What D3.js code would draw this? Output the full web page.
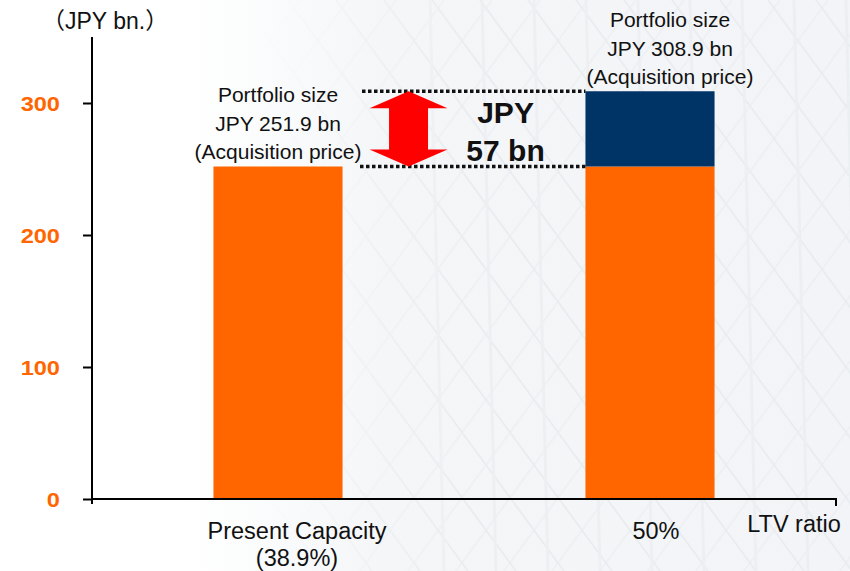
<!DOCTYPE html>
<html>
<head>
<meta charset="utf-8">
<script src="https://cdn.jsdelivr.net/npm/d3@7"></script>
<style>
  html, body { margin: 0; padding: 0; background: #fff; }
  svg { display: block; font-family: "Liberation Sans", Arial, sans-serif; }
</style>
</head>
<body>
<svg id="chart" width="850" height="571"></svg>
<script>
// LTV scenarios and portfolio sizes (JPY bn.)
const categories = ["Present Capacity", "50%"];
const categorySubLabels = ["(38.9%)", ""];
const baseValues = [251.9, 251.9];        // portfolio at present capacity
const additionalValues = [0, 57.0];       // extra acquisition capacity
const totalLabels = ["JPY 251.9 bn", "JPY 308.9 bn"];
const yTicks = [0, 100, 200, 300];
const gapLabel = ["JPY", "57 bn"];

const W = 850, H = 571;
const svg = d3.select("#chart");

// ---- faint architectural backdrop ----
const defs = svg.append("defs");
const grad = defs.append("linearGradient").attr("id", "bgfade")
  .attr("x1", 0).attr("x2", 1).attr("y1", 0).attr("y2", 0);
grad.append("stop").attr("offset", "0%").attr("stop-color", "#ffffff");
grad.append("stop").attr("offset", "22%").attr("stop-color", "#ffffff");
grad.append("stop").attr("offset", "45%").attr("stop-color", "#f4f6f8");
grad.append("stop").attr("offset", "100%").attr("stop-color", "#f2f4f7");
svg.append("rect").attr("width", W).attr("height", H).attr("fill", "url(#bgfade)");

const fadeMask = defs.append("linearGradient").attr("id", "lineFade")
  .attr("x1", 0).attr("x2", 1).attr("y1", 0).attr("y2", 0);
fadeMask.append("stop").attr("offset", "0%").attr("stop-color", "#fff").attr("stop-opacity", 0);
fadeMask.append("stop").attr("offset", "30%").attr("stop-color", "#fff").attr("stop-opacity", 0);
fadeMask.append("stop").attr("offset", "55%").attr("stop-color", "#fff").attr("stop-opacity", 1);
fadeMask.append("stop").attr("offset", "100%").attr("stop-color", "#fff").attr("stop-opacity", 1);
defs.append("mask").attr("id", "bgMask")
  .append("rect").attr("width", W).attr("height", H).attr("fill", "url(#lineFade)");

const deco = svg.append("g").attr("mask", "url(#bgMask)")
  .attr("stroke", "#dfe3e8").attr("stroke-width", 2).attr("fill", "none").attr("opacity", 0.45);
for (let i = -12; i < 22; i++) {
  const x0 = i * 48;
  deco.append("line").attr("x1", x0).attr("y1", 0).attr("x2", x0 + 420).attr("y2", 571);
  deco.append("line").attr("x1", x0 + 300).attr("y1", 0).attr("x2", x0 - 120).attr("y2", 571)
    .attr("opacity", 0.6);
}
for (let i = 0; i < 9; i++) {
  const x0 = 430 + i * 52;
  deco.append("line").attr("x1", x0).attr("y1", 0).attr("x2", x0 + 14).attr("y2", 571)
    .attr("stroke", "#e6e9ed").attr("stroke-width", 3);
}

// ---- scales ----
const xLeft = 92, xRight = 836, yTop = 37, yZero = 499;
const x = d3.scaleBand().domain(categories).range([xLeft, xRight])
  .paddingInner(0.653).paddingOuter(0.3265);
const y = d3.scaleLinear().domain([0, 350]).range([yZero, yTop]);
const bw = x.bandwidth();

const ORANGE = "#ff6600", NAVY = "#003366";

// ---- bars ----
const barG = svg.append("g");
barG.selectAll("rect.base").data(categories).join("rect")
  .attr("class", "base")
  .attr("x", d => x(d)).attr("width", bw)
  .attr("y", (d, i) => y(baseValues[i]))
  .attr("height", (d, i) => y(0) - y(baseValues[i]))
  .attr("fill", ORANGE);
barG.selectAll("rect.add").data(categories).join("rect")
  .attr("class", "add")
  .attr("x", d => x(d)).attr("width", bw)
  .attr("y", (d, i) => y(baseValues[i] + additionalValues[i]))
  .attr("height", (d, i) => y(baseValues[i]) - y(baseValues[i] + additionalValues[i]))
  .attr("fill", NAVY);

// ---- axes ----
const SX = 1.18;  // horizontal text widening for the tick numbers
const yAxis = d3.axisLeft(y).tickValues(yTicks).tickSize(9).tickSizeOuter(0).tickPadding(0);
const yg = svg.append("g").attr("transform", `translate(${xLeft},0)`).call(yAxis);
yg.select(".domain").remove();
yg.selectAll(".tick line").attr("stroke", "#000").attr("stroke-width", 2);
yg.selectAll(".tick text")
  .attr("x", -32 / SX).attr("dy", "0.36em")
  .attr("transform", `scale(${SX},1)`)
  .attr("fill", ORANGE).attr("font-size", 20).attr("font-weight", "bold")
  .attr("font-family", "'Liberation Sans', Arial, sans-serif");
svg.append("line").attr("x1", xLeft).attr("x2", xLeft).attr("y1", yTop).attr("y2", yZero + 5)
  .attr("stroke", "#000").attr("stroke-width", 2);
svg.append("line").attr("x1", xLeft - 1).attr("x2", xRight + 1).attr("y1", yZero).attr("y2", yZero)
  .attr("stroke", "#000").attr("stroke-width", 2);
svg.append("line").attr("x1", xRight).attr("x2", xRight).attr("y1", yZero).attr("y2", yZero + 7)
  .attr("stroke", "#000").attr("stroke-width", 2);

// ---- text helper ----
function label(px, py, txt, opts = {}) {
  return svg.append("text")
    .attr("transform", `translate(${px},${py})`)
    .attr("text-anchor", opts.anchor || "middle")
    .attr("font-size", opts.size || 21)
    .attr("font-weight", opts.weight || "normal")
    .attr("fill", opts.fill || "#111")
    .attr("font-family", opts.family || "'Liberation Sans', Arial, sans-serif")
    .text(txt);
}

// axis titles
label(42, 29, "（JPY bn.）", { anchor: "start", size: 23,
  family: "'Liberation Sans', Arial, 'Noto Sans CJK JP', sans-serif" });
label(794, 532, "LTV ratio", { size: 23.5 });

// category labels
categories.forEach((c, i) => {
  const cx = x(c) + bw / 2 + (i === 0 ? 19 : 6);
  label(cx, 539, c, { size: 23.5 });
  if (categorySubLabels[i]) label(cx, 566, categorySubLabels[i], { size: 23.5 });
});

// portfolio size annotations above each bar
categories.forEach((c, i) => {
  const top = y(baseValues[i] + additionalValues[i]);
  const cx = x(c) + bw / 2 + (i === 0 ? 0 : 20);
  label(cx, top - 64, "Portfolio size", { size: 21 });
  label(cx, top - 35, totalLabels[i], { size: 21 });
  label(cx, top - 7, "(Acquisition price)", { size: 21 });
});

// ---- gap indicator between the two portfolio sizes ----
const yHigh = y(baseValues[1] + additionalValues[1]);
const yLow = y(baseValues[1]);
const x2 = x(categories[1]);
svg.append("line").attr("x1", 362).attr("x2", x2).attr("y1", yHigh).attr("y2", yHigh)
  .attr("stroke", "#111").attr("stroke-width", 3.5).attr("stroke-dasharray", "3.5,2.5");
svg.append("line").attr("x1", 360).attr("x2", x2).attr("y1", yLow).attr("y2", yLow)
  .attr("stroke", "#111").attr("stroke-width", 3.5).attr("stroke-dasharray", "3.5,2.5");

const ax = x(categories[0]) + bw + 66;   // arrow centre
const headH = 17, headW = 39, shaftW = 19.5;
const arrowPts = [
  [ax, yHigh], [ax + headW, yHigh + headH], [ax + shaftW, yHigh + headH],
  [ax + shaftW, yLow - headH], [ax + headW, yLow - headH], [ax, yLow],
  [ax - headW, yLow - headH], [ax - shaftW, yLow - headH],
  [ax - shaftW, yHigh + headH], [ax - headW, yHigh + headH]
];
svg.append("path").attr("d", d3.line()(arrowPts) + "Z").attr("fill", "#ff0000");

const gx = ax + 97;
label(gx, 123, gapLabel[0], { size: 30, weight: "bold" });
label(gx, 161, gapLabel[1], { size: 30, weight: "bold" });
</script>
</body>
</html>
